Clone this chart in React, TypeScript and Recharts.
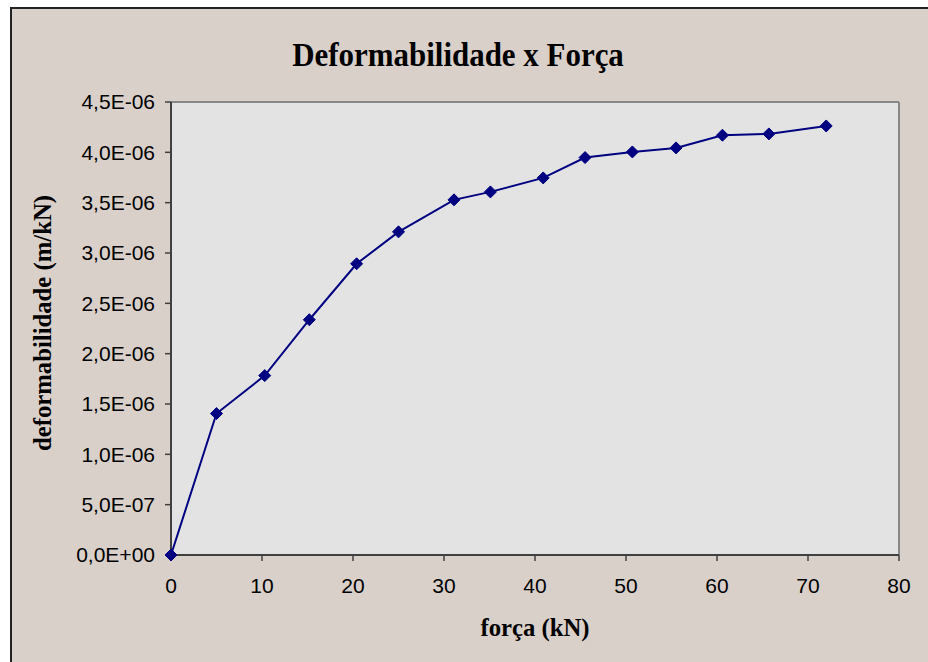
import { LineChart, Line, XAxis, YAxis, CartesianGrid, ReferenceLine } from "recharts";

const forca = [0, 5.0, 10.3, 15.2, 20.4, 25.0, 31.1, 35.1, 40.9, 45.5, 50.7, 55.5, 60.6, 65.7, 72.0];
const deformabilidade = [
  0, 1.405e-6, 1.782e-6, 2.337e-6, 2.893e-6, 3.21e-6, 3.528e-6, 3.607e-6, 3.746e-6,
  3.948e-6, 4.004e-6, 4.044e-6, 4.17e-6, 4.183e-6, 4.262e-6,
];
const xTicks = [0, 10, 20, 30, 40, 50, 60, 70, 80];
const yTicks = [0, 0.5e-6, 1.0e-6, 1.5e-6, 2.0e-6, 2.5e-6, 3.0e-6, 3.5e-6, 4.0e-6, 4.5e-6];

const data = forca.map((f, i) => ({ forca: f, deform: deformabilidade[i] }));

const NAVY = "#000080";
const BG = "#d9d0ca";

function fmtSci(v: number) {
  // 4.5e-6 -> "4,5E-06"
  return v
    .toExponential(1)
    .replace(".", ",")
    .replace(/e([+-])(\d)$/, "E$10$2")
    .replace(/e([+-])(\d\d)$/, "E$1$2");
}

function Diamond(props: any) {
  const { cx, cy, index } = props;
  if (cx == null || cy == null) return null;
  const r = 6;
  return (
    <polygon
      key={index}
      points={`${cx},${cy - r} ${cx + r},${cy} ${cx},${cy + r} ${cx - r},${cy}`}
      fill={NAVY}
      stroke={NAVY}
      strokeWidth={1}
    />
  );
}

const tickStyle = { fill: "#000", fontSize: 21, fontFamily: "'Liberation Sans', Arial, sans-serif" };
const serifBold = { fontFamily: "'Liberation Serif', 'Times New Roman', serif", fontWeight: "bold", color: "#000" } as const;

export default function App() {
  return (
    <div style={{ position: "absolute", left: 10, top: 7, width: 918, height: 655, background: BG }}>
      <div
        style={{
          position: "absolute",
          left: 0,
          top: 0,
          width: 918,
          height: 655,
          borderTop: "2px solid #222",
          borderLeft: "2px solid #222",
          boxSizing: "border-box",
          pointerEvents: "none",
        }}
      />
      <div
        style={{
          ...serifBold,
          position: "absolute",
          left: 0,
          top: 31,
          width: 896,
          textAlign: "center",
          fontSize: 34,
          lineHeight: "34px",
          transform: "scaleX(0.91)",
        }}
      >
        Deformabilidade x Força
      </div>
      <div
        style={{
          ...serifBold,
          position: "absolute",
          left: 325,
          top: 608,
          width: 400,
          textAlign: "center",
          fontSize: 26,
          lineHeight: "26px",
          transform: "scaleX(0.95)",
        }}
      >
        força (kN)
      </div>
      <div
        style={{
          ...serifBold,
          position: "absolute",
          left: 33 - 200,
          top: 316 - 13,
          width: 400,
          height: 26,
          textAlign: "center",
          fontSize: 26,
          lineHeight: "26px",
          transform: "rotate(-90deg) scaleX(0.95)",
        }}
      >
        deformabilidade (m/kN)
      </div>
      <LineChart
        width={918}
        height={655}
        data={data}
        margin={{ top: 95, right: 29, bottom: 0, left: 0 }}
        style={{ position: "absolute", left: 0, top: 0 }}
      >
        <CartesianGrid horizontal={false} vertical={false} fill="#e3e3e3" />
        <XAxis
          dataKey="forca"
          type="number"
          domain={[0, 80]}
          ticks={xTicks}
          interval={0}
          height={107}
          tick={tickStyle}
          tickSize={6}
          tickMargin={17}
          axisLine={{ stroke: "#404040", strokeWidth: 2 }}
          tickLine={{ stroke: "#404040", strokeWidth: 1.5 }}
        />
        <YAxis
          type="number"
          domain={[0, 4.5e-6]}
          ticks={yTicks}
          interval={0}
          width={161}
          tick={tickStyle}
          tickFormatter={fmtSci}
          tickSize={6}
          tickMargin={10}
          axisLine={{ stroke: "#404040", strokeWidth: 2 }}
          tickLine={{ stroke: "#404040", strokeWidth: 1.5 }}
        />
        <ReferenceLine x={80} stroke="#888" strokeWidth={2} />
        <ReferenceLine y={4.5e-6} stroke="#888" strokeWidth={2} />
        <Line
          type="linear"
          dataKey="deform"
          stroke={NAVY}
          strokeWidth={2}
          dot={<Diamond />}
          activeDot={false}
          isAnimationActive={false}
        />
      </LineChart>
    </div>
  );
}
